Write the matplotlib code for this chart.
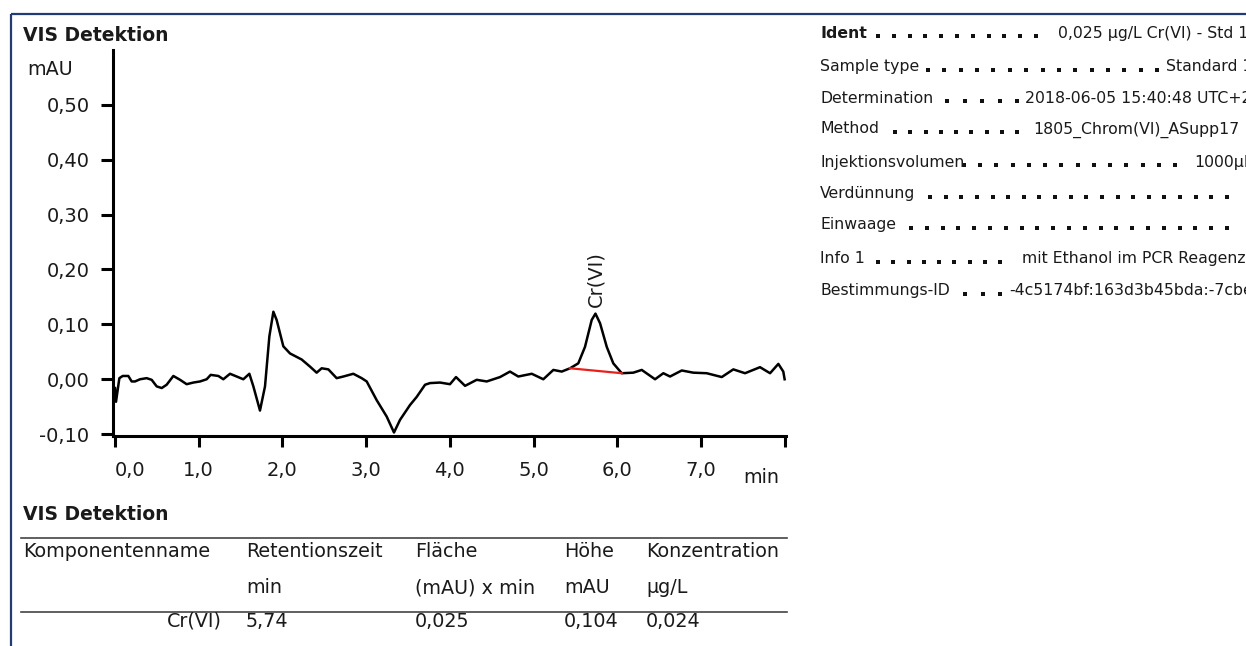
import numpy as np
import matplotlib.pyplot as plt
from matplotlib.lines import Line2D

plt.rcParams['font.family'] = ['DejaVu Sans']

# chromatogram trace (time in min, signal in mAU)
time_min = [0.000, 0.012, 0.052, 0.092, 0.159, 0.199, 0.239, 0.299, 0.378, 0.438,
            0.498, 0.558, 0.617, 0.697, 0.777, 0.856, 0.936, 1.016, 1.095, 1.143,
            1.235, 1.294, 1.374, 1.454, 1.533, 1.605, 1.653, 1.732, 1.792, 1.844,
            1.892, 1.931, 2.011, 2.091, 2.230, 2.330, 2.409, 2.469, 2.549, 2.648,
            2.728, 2.847, 2.947, 3.007, 3.126, 3.246, 3.333, 3.405, 3.524, 3.605,
            3.704, 3.763, 3.883, 4.002, 4.074, 4.182, 4.321, 4.441, 4.600, 4.719,
            4.818, 4.979, 5.117, 5.237, 5.337, 5.436, 5.535, 5.615, 5.695, 5.795,
            5.875, 5.953, 6.054, 6.192, 6.293, 6.452, 6.551, 6.631, 6.771, 6.909,
            7.069, 7.249, 7.387, 7.527, 7.706, 7.826, 7.925, 7.984, 8.000]
signal_mau = [-0.016, -0.041, 0.002, 0.006, 0.006, -0.004, -0.004, 0.000, 0.002, -0.001,
              -0.013, -0.016, -0.010, 0.006, -0.001, -0.009, -0.006, -0.004, 0.000, 0.008,
              0.006, 0.000, 0.010, 0.005, 0.000, 0.010, -0.013, -0.057, -0.013, 0.078,
              0.123, 0.108, 0.060, 0.047, 0.036, 0.023, 0.012, 0.020, 0.018, 0.002,
              0.005, 0.010, 0.002, -0.004, -0.038, -0.068, -0.097, -0.074, -0.047, -0.032,
              -0.010, -0.007, -0.006, -0.009, 0.004, -0.012, -0.001, -0.004, 0.004, 0.014,
              0.005, 0.010, 0.000, 0.017, 0.014, 0.020, 0.029, 0.059, 0.108, 0.102,
              0.059, 0.029, 0.011, 0.012, 0.017, 0.000, 0.011, 0.005, 0.016, 0.012,
              0.011, 0.004, 0.018, 0.011, 0.022, 0.011, 0.028, 0.014, 0.000]

# integrated peak
peak_name = "Cr(VI)"
peak_rt = 5.74
peak_area = "0,025"
peak_height = 0.104
peak_conc = "0,024"
peak_start, peak_end = 5.436, 6.054

x_ticks = [0, 1, 2, 3, 4, 5, 6, 7, 8]
x_labels = ["0,0", "1,0", "2,0", "3,0", "4,0", "5,0", "6,0", "7,0", ""]
y_ticks = [-0.10, 0.00, 0.10, 0.20, 0.30, 0.40, 0.50]
y_labels = ["-0,10", "0,00", "0,10", "0,20", "0,30", "0,40", "0,50"]

info_labels = ["Ident", "Sample type", "Determination", "Method", "Injektionsvolumen",
               "Verdünnung", "Einwaage", "Info 1", "Bestimmungs-ID"]
info_values = ["0,025 µg/L Cr(VI) - Std 1", "Standard 1", "2018-06-05 15:40:48 UTC+2",
               "1805_Chrom(VI)_ASupp17", "1000µl", "", "",
               "mit Ethanol im PCR Reagenz", "-4c5174bf:163d3b45bda:-7cbe"]

table_header = ["Komponentenname", "Retentionszeit", "Fläche", "Höhe", "Konzentration"]
table_units = ["", "min", "(mAU) x min", "mAU", "µg/L"]

# baseline under the peak and apex from the reported height
t = np.array(time_min)
s = np.array(signal_mau)
base_start = np.interp(peak_start, t, s)
base_end = np.interp(peak_end, t, s)
base_rt = base_start + (base_end - base_start) * (peak_rt - peak_start) / (peak_end - peak_start)
apex = base_rt + peak_height
i = np.searchsorted(t, peak_rt)
t = np.insert(t, i, peak_rt)
s = np.insert(s, i, apex)

W, H = 1246, 646
fig = plt.figure(figsize=(W / 100, H / 100), dpi=100)
txt = '#1a1a1a'

# page layer in pixel coordinates
pg = fig.add_axes([0, 0, 1, 1])
pg.set_xlim(0, W)
pg.set_ylim(H, 0)
pg.axis('off')

pg.plot([11, W], [14, 14], color='#1f3c78', lw=1.6, solid_capstyle='butt')
pg.plot([11, 11], [14, H], color='#1f3c78', lw=1.6, solid_capstyle='butt')

pg.text(23, 40.7, "VIS Detektion", fontsize=13.5, fontweight='bold', color=txt, va='baseline')
pg.text(27, 75, "mAU", fontsize=13.8, color=txt, va='baseline')
pg.text(743, 483, "min", fontsize=13.8, color=txt, va='baseline')

# info block
rows_y = [37.7, 71, 102.7, 133.3, 166.7, 198.3, 229.3, 263.3, 295]
dot_span = [(878, 1036), (928, 1157), (947, 1017), (895, 1017), (964, 1175),
            (930, 1227), (911, 1227), (878, 1000), (965, 1000)]
value_x = [1058, 1166, 1025, 1033, 1194, 1246, 1246, 1022, 1009]
for k, lab in enumerate(info_labels):
    y = rows_y[k]
    pg.text(820, y, lab, fontsize=11.3, color=txt, va='baseline',
            fontweight='bold' if k == 0 else 'normal')
    a, b = dot_span[k]
    n = int(round((b - a) / 16.0)) + 1
    xs = np.linspace(a, b, n)
    pg.plot(xs, np.full(n, y - 1.5), ls='none', marker='s', ms=2.6,
            color='#111111', mew=0)
    pg.text(value_x[k], y, info_values[k], fontsize=11.3, color=txt, va='baseline')

# result table
pg.text(23, 520, "VIS Detektion", fontsize=13.5, fontweight='bold', color=txt, va='baseline')
pg.plot([21, 787], [538.3, 538.3], color='#444444', lw=1.2)
pg.plot([21, 787], [611.7, 611.7], color='#444444', lw=1.2)
col_x = [23, 246, 415, 564, 646]
for cx, head, unit in zip(col_x, table_header, table_units):
    pg.text(cx, 556.7, head, fontsize=13.8, color=txt, va='baseline')
    pg.text(cx, 593.3, unit, fontsize=13.8, color=txt, va='baseline')
pg.text(222, 626.7, peak_name, fontsize=13.8, color=txt, va='baseline', ha='right')
row_vals = [f"{peak_rt:.2f}".replace('.', ','), peak_area,
            f"{peak_height:.3f}".replace('.', ','), peak_conc]
for cx, v in zip(col_x[1:], row_vals):
    pg.text(cx, 626.7, v, fontsize=13.8, color=txt, va='baseline')

# chromatogram
ax = fig.add_axes([113 / W, 1 - 435.8 / H, 673.3 / W, 385.9 / H])
ax.patch.set_alpha(0)
ax.plot(t, s, color='black', lw=1.8)
ax.plot([peak_start, peak_end], [base_start, base_end], color='#e8201c', lw=1.6)
ax.annotate(peak_name, (peak_rt, apex), xytext=(0, 5), textcoords='offset points',
            rotation=90, ha='center', va='bottom', fontsize=14, color=txt)

ax.set_xlim(-0.024, 8.02)
ax.set_ylim(-0.103, 0.60)
for side in ['top', 'right']:
    ax.spines[side].set_visible(False)
for side in ['left', 'bottom']:
    ax.spines[side].set_linewidth(2.2)
ax.set_xticks(x_ticks)
ax.set_xticklabels(x_labels)
ax.get_xticklabels()[0].set_horizontalalignment('left')
ax.set_yticks(y_ticks)
ax.set_yticklabels(y_labels)
ax.tick_params(axis='x', direction='out', length=8, width=2.2, pad=10,
               labelsize=14, labelcolor=txt)
ax.tick_params(axis='y', direction='out', length=9, width=2.2, pad=8,
               labelsize=14, labelcolor=txt)

fig.savefig('out.png', dpi=100)
